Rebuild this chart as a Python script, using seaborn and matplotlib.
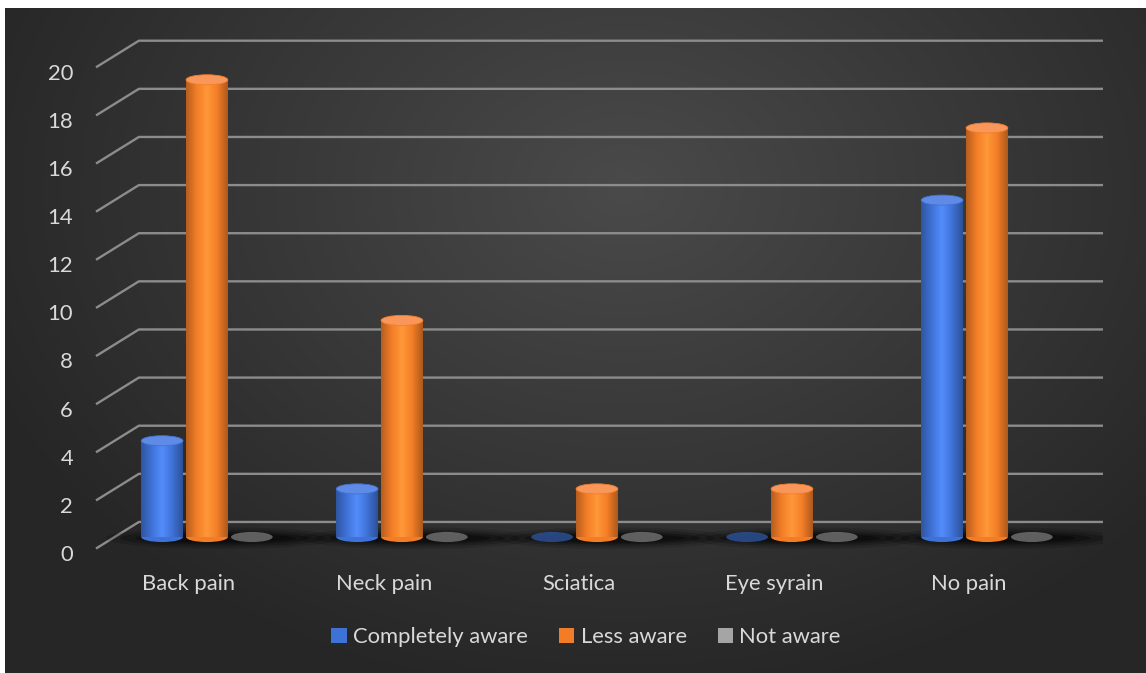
import numpy as np
import pandas as pd
import matplotlib
matplotlib.use("Agg")
import matplotlib.pyplot as plt
import seaborn as sns
from matplotlib.patches import Ellipse
from matplotlib.transforms import ScaledTranslation
from matplotlib.colors import LinearSegmentedColormap, to_rgb

# ---------------- data ----------------
categories = ["Back pain", "Neck pain", "Sciatica", "Eye syrain", "No pain"]
completely_aware = [4, 2, 0, 0, 14]
less_aware = [19, 9, 2, 2, 17]
not_aware = [0, 0, 0, 0, 0]
series_names = ["Completely aware", "Less aware", "Not aware"]
y_ticks = [0, 2, 4, 6, 8, 10, 12, 14, 16, 18, 20]

series_colors = ["#3f72d6", "#f37d27", "#a5a5a5"]
top_colors = ["#5f8ae6", "#f9965a", "#bdbdbd"]
flat_colors = ["#2c4f93", "#c8641e", "#6e6e6e"]

df = pd.DataFrame({
    "category": categories * 3,
    "series": [series_names[0]] * 5 + [series_names[1]] * 5 + [series_names[2]] * 5,
    "value": completely_aware + less_aware + not_aware,
})

sns.set_theme(style="dark")
plt.rcParams["font.family"] = ["Lato", "DejaVu Sans"]
text_color = "#d9d9d9"
FS = 15.8

W, H = 1146, 673
fig = plt.figure(figsize=(W / 100, H / 100), dpi=100)
fig.patch.set_facecolor("white")

# ---------------- background gradient panel ----------------
bx0, by0 = 5, 8
bg = fig.add_axes([bx0 / W, 0, 1 - bx0 / W, (H - by0) / H])
bg.set_axis_off()
ny, nx = H - by0, W - bx0
yy, xx = np.mgrid[0:ny, 0:nx]
r = np.sqrt(((xx - 620) / 700.0) ** 2 + ((yy - 180) / 520.0) ** 2)
r = np.clip(r, 0, 1)
c_in = np.array(to_rgb("#4a4a4a"))
c_out = np.array(to_rgb("#262626"))
img = c_in[None, None, :] * (1 - r[..., None]) + c_out[None, None, :] * r[..., None]
bg.imshow(img, aspect="auto", extent=[0, 1, 0, 1], origin="upper")
bg.set_xlim(0, 1)
bg.set_ylim(0, 1)

# ---------------- main axes ----------------
ax_left, ax_right = 96, 1103
ax_top, ax_bottom = 30, 560
ax = fig.add_axes([ax_left / W, 1 - ax_bottom / H, (ax_right - ax_left) / W, (ax_bottom - ax_top) / H])
ax.patch.set_alpha(0)

sns.barplot(data=df, x="category", y="value", hue="series", order=categories,
            hue_order=series_names, palette=series_colors, width=0.69, gap=0.07,
            saturation=1, ax=ax, zorder=2, linewidth=0, edgecolor="none")

xlim = (-0.569, 4.595)
ylim = (-0.956, 21.07)

# back-wall gridlines with the 3D side-wall diagonals
for v in y_ticks:
    ax.plot([xlim[0], -0.349, xlim[1]], [v - 0.48, v + 0.625, v + 0.625],
            color="#8c8c8c", lw=1.7, zorder=0.5, clip_on=False, solid_capstyle="butt")

# floor shadows under each group
for i in range(len(categories)):
    for wd, ht, a in [(1.2, 0.9, 0.14), (1.05, 0.7, 0.2), (0.9, 0.52, 0.28), (0.75, 0.36, 0.34)]:
        ax.add_patch(Ellipse((i + 0.08, -0.05), wd, ht, facecolor="black", alpha=a,
                             edgecolor="none", zorder=1))

# cylinder shading and elliptical caps, built from the bars seaborn drew
bars = [b for b in ax.patches
        if isinstance(b, matplotlib.patches.Rectangle) and b.get_width() > 0]
cap_h = 0.42
for b in bars:
    base = np.array(b.get_facecolor()[:3])
    idx = int(np.argmin([np.sum((base - np.array(to_rgb(c))) ** 2) for c in series_colors]))
    x, w, h = b.get_x(), b.get_width(), b.get_height()
    if h > 0:
        ax.add_patch(Ellipse((x + w / 2, 0), w, cap_h, facecolor=series_colors[idx],
                             edgecolor="none", zorder=2))
        light = np.clip(base * 1.12 + 0.05, 0, 1)
        dark = base * 0.75
        cmap = LinearSegmentedColormap.from_list("cyl", [dark, base, light, base, dark * 0.95])
        grad = np.linspace(0, 1, 64)[None, :]
        im = ax.imshow(grad, cmap=cmap, extent=[x, x + w, 0, h], aspect="auto",
                       zorder=2.1, interpolation="bicubic")
        im.set_clip_path(b)
        ax.add_patch(Ellipse((x + w / 2, h), w, cap_h, facecolor=top_colors[idx],
                             edgecolor=series_colors[idx], lw=0.6, zorder=2.2))
    else:
        ax.add_patch(Ellipse((x + w / 2, h), w, cap_h, facecolor=flat_colors[idx],
                             edgecolor="none", alpha=0.85, zorder=2.2))

ax.set_xlim(*xlim)
ax.set_ylim(*ylim)

# ---------------- axes styling ----------------
for s in ax.spines.values():
    s.set_visible(False)
ax.grid(False)
ax.set_xlabel("")
ax.set_ylabel("")
ax.set_yticks(y_ticks)
ax.set_yticklabels([str(v) for v in y_ticks])
ax.tick_params(axis="y", length=0, pad=16.5, labelsize=FS, labelcolor=text_color)
ax.tick_params(axis="x", length=0, pad=10, labelsize=FS, labelcolor=text_color)
ax.set_xticks(range(len(categories)))
ax.set_xticklabels(categories)

off_y = ScaledTranslation(0, -0.16, fig.dpi_scale_trans)
for lab in ax.get_yticklabels():
    lab.set_transform(lab.get_transform() + off_y)
off_x = ScaledTranslation(-0.18, 0, fig.dpi_scale_trans)
for lab in ax.get_xticklabels():
    lab.set_transform(lab.get_transform() + off_x)

# ---------------- legend ----------------
sns.move_legend(ax, "center", bbox_to_anchor=(586 / W, 1 - 637 / H),
                bbox_transform=fig.transFigure, ncol=3, frameon=False, title=None,
                handlelength=0.7, handleheight=0.7, handletextpad=0.3,
                columnspacing=1.4, fontsize=FS, labelcolor=text_color)

fig.savefig("out.png", dpi=100, facecolor=fig.get_facecolor())
